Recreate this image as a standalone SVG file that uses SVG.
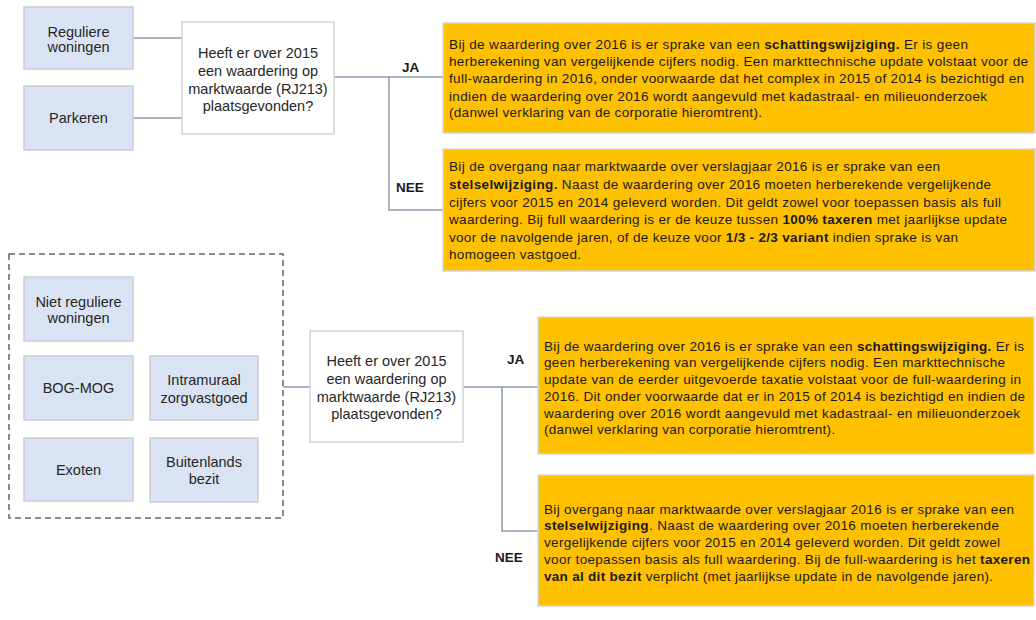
<svg xmlns="http://www.w3.org/2000/svg" width="1036" height="620" viewBox="0 0 1036 620">
<style>
.cat{fill:#dae3f3;stroke:#c9ced6;stroke-width:1.5}
.q{fill:#ffffff;stroke:#cfd3d9;stroke-width:1.5}
.y{fill:#ffc000;stroke:#d3d6dc;stroke-width:1.5}
.grp{fill:none;stroke:#5e6778;stroke-width:1.5;stroke-dasharray:6 4}
.c{fill:none;stroke:#8e9aae;stroke-width:1.5}
.t{font-family:"Liberation Sans",Arial,sans-serif;font-size:14.5px;fill:#262626;text-anchor:middle}
.p{font-family:"Liberation Sans",Arial,sans-serif;font-size:13.5px;fill:#1a1a1a}
.b{font-weight:bold}
.lbl{font-family:"Liberation Sans",Arial,sans-serif;font-size:13.5px;font-weight:bold;fill:#1a1a1a}
</style>

<g id="connectors">
<path class="c" d="M133 38 H182"/>
<path class="c" d="M133 118 H182"/>
<path class="c" d="M334 77 H443"/>
<path class="c" d="M389 77 V210 H443"/>
<path class="c" d="M283 387 H310"/>
<path class="c" d="M463 387 H538"/>
<path class="c" d="M502 387 V531 H538"/>
</g>

<g id="label-ja-top"><text class="lbl" x="402" y="72">JA</text></g>
<g id="label-nee-top"><text class="lbl" x="396" y="192">NEE</text></g>
<g id="label-ja-bottom"><text class="lbl" x="507" y="364">JA</text></g>
<g id="label-nee-bottom"><text class="lbl" x="495" y="562">NEE</text></g>

<g id="reguliere-woningen">
<rect class="cat" x="24" y="7" width="109" height="62"/>
<text class="t" x="78.5" y="37">Reguliere</text>
<text class="t" x="78.5" y="52">woningen</text>
</g>
<g id="parkeren">
<rect class="cat" x="24" y="86" width="109" height="64"/>
<text class="t" x="78.5" y="123">Parkeren</text>
</g>
<g id="vraag-top">
<rect class="q" x="182" y="22" width="152" height="112"/>
<text class="t" x="258" y="58">Heeft er over 2015</text>
<text class="t" x="258" y="76">een waardering op</text>
<text class="t" x="258" y="93.5">marktwaarde (RJ213)</text>
<text class="t" x="258" y="111">plaatsgevonden?</text>
</g>
<g id="ja-top">
<rect class="y" x="443" y="23" width="592" height="110"/>
<text class="p" x="449" y="49" textLength="519">Bij de waardering over 2016 is er sprake van een <tspan class="b">schattingswijziging.</tspan> Er is geen</text>
<text class="p" x="449" y="66" textLength="579">herberekening van vergelijkende cijfers nodig. Een markttechnische update volstaat voor de</text>
<text class="p" x="449" y="83" textLength="575">full-waardering in 2016, onder voorwaarde dat het complex in 2015 of 2014 is bezichtigd en</text>
<text class="p" x="449" y="100.5" textLength="538">indien de waardering over 2016 wordt aangevuld met kadastraal- en milieuonderzoek</text>
<text class="p" x="449" y="117" textLength="313">(danwel verklaring van de corporatie hieromtrent).</text>
</g>
<g id="nee-top">
<rect class="y" x="443" y="149" width="592" height="122"/>
<text class="p" x="449" y="171" textLength="491">Bij de overgang naar marktwaarde over verslagjaar 2016 is er sprake van een</text>
<text class="p" x="449" y="189" textLength="542"><tspan class="b">stelselwijziging.</tspan> Naast de waardering over 2016 moeten herberekende vergelijkende</text>
<text class="p" x="449" y="206.5" textLength="552">cijfers voor 2015 en 2014 geleverd worden. Dit geldt zowel voor toepassen basis als full</text>
<text class="p" x="449" y="224" textLength="558">waardering. Bij full waardering is er de keuze tussen <tspan class="b">100% taxeren</tspan> met jaarlijkse update</text>
<text class="p" x="449" y="241.5" textLength="509">voor de navolgende jaren, of de keuze voor <tspan class="b">1/3 - 2/3 variant</tspan> indien sprake is van</text>
<text class="p" x="449" y="259" textLength="132">homogeen vastgoed.</text>
</g>

<g id="groep-overig">
<rect class="grp" x="9" y="254" width="274" height="264"/>
</g>
<g id="niet-reguliere-woningen">
<rect class="cat" x="24" y="277" width="109" height="64"/>
<text class="t" x="78.5" y="306.5">Niet reguliere</text>
<text class="t" x="78.5" y="323">woningen</text>
</g>
<g id="bog-mog">
<rect class="cat" x="24" y="356" width="109" height="64"/>
<text class="t" x="78.5" y="393">BOG-MOG</text>
</g>
<g id="intramuraal-zorgvastgoed">
<rect class="cat" x="150" y="356" width="108" height="64"/>
<text class="t" x="204" y="385">Intramuraal</text>
<text class="t" x="204" y="402.5">zorgvastgoed</text>
</g>
<g id="exoten">
<rect class="cat" x="24" y="438" width="109" height="63"/>
<text class="t" x="78.5" y="474.5">Exoten</text>
</g>
<g id="buitenlands-bezit">
<rect class="cat" x="150" y="438" width="108" height="64"/>
<text class="t" x="204" y="467">Buitenlands</text>
<text class="t" x="204" y="484">bezit</text>
</g>
<g id="vraag-bottom">
<rect class="q" x="310" y="331" width="153" height="111"/>
<text class="t" x="386.5" y="366">Heeft er over 2015</text>
<text class="t" x="386.5" y="384">een waardering op</text>
<text class="t" x="386.5" y="402">marktwaarde (RJ213)</text>
<text class="t" x="386.5" y="419">plaatsgevonden?</text>
</g>
<g id="ja-bottom">
<rect class="y" x="538" y="317" width="496" height="137"/>
<text class="p" x="544" y="350.5" textLength="480">Bij de waardering over 2016 is er sprake van een <tspan class="b">schattingswijziging.</tspan> Er is</text>
<text class="p" x="544" y="367" textLength="461">geen herberekening van vergelijkende cijfers nodig. Een markttechnische</text>
<text class="p" x="544" y="384" textLength="477">update van de eerder uitgevoerde taxatie volstaat voor de full-waardering in</text>
<text class="p" x="544" y="401" textLength="481">2016. Dit onder voorwaarde dat er in 2015 of 2014 is bezichtigd en indien de</text>
<text class="p" x="544" y="418" textLength="476">waardering over 2016 wordt aangevuld met kadastraal- en milieuonderzoek</text>
<text class="p" x="544" y="434" textLength="291">(danwel verklaring van corporatie hieromtrent).</text>
</g>
<g id="nee-bottom">
<rect class="y" x="538" y="475" width="496" height="131"/>
<text class="p" x="544" y="513.5" textLength="470">Bij overgang naar marktwaarde over verslagjaar 2016 is er sprake van een</text>
<text class="p" x="544" y="530" textLength="455"><tspan class="b">stelselwijziging</tspan>. Naast de waardering over 2016 moeten herberekende</text>
<text class="p" x="544" y="547" textLength="456">vergelijkende cijfers voor 2015 en 2014 geleverd worden. Dit geldt zowel</text>
<text class="p" x="544" y="564" textLength="486">voor toepassen basis als full waardering. Bij de full-waardering is het <tspan class="b">taxeren</tspan></text>
<text class="p" x="544" y="581" textLength="449"><tspan class="b">van al dit bezit</tspan> verplicht (met jaarlijkse update in de navolgende jaren).</text>
</g>
</svg>
